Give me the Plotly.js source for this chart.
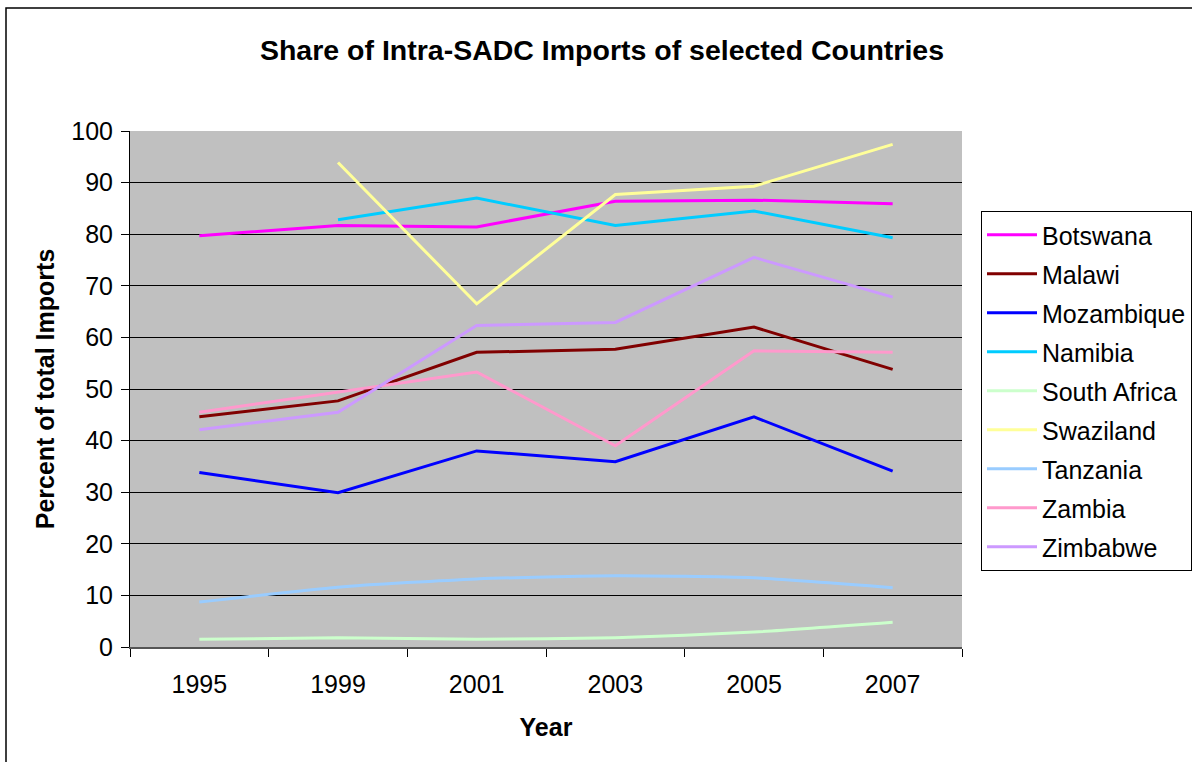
<!DOCTYPE html>
<html>
<head>
<meta charset="utf-8">
<script src="https://cdn.plot.ly/plotly-3.0.1.min.js"></script>
<style>html,body{margin:0;padding:0;background:#fff;}#chart{width:1192px;height:762px;}</style>
</head>
<body>
<div id="chart"></div>
<script>
const years = ['1995', '1999', '2001', '2003', '2005', '2007'];
const botswana    = [79.7, 81.7, 81.4, 86.4, 86.6, 85.9];
const malawi      = [44.6, 47.7, 57.1, 57.7, 62.0, 53.8];
const mozambique  = [33.8, 29.9, 38.0, 35.9, 44.6, 34.1];
const namibia     = [null, 82.8, 87.0, 81.7, 84.5, 79.3];
const southAfrica = [1.5, 1.8, 1.5, 1.8, 2.9, 4.8];
const swaziland   = [null, 93.9, 66.5, 87.7, 89.3, 97.4];
const tanzania    = [8.7, 11.6, 13.2, 13.8, 13.4, 11.5];
const zambia      = [45.5, 49.4, 53.3, 39.0, 57.4, 57.1];
const zimbabwe    = [42.1, 45.5, 62.3, 62.9, 75.5, 67.8];

const seriesNames = ['Botswana', 'Malawi', 'Mozambique', 'Namibia', 'South Africa', 'Swaziland', 'Tanzania', 'Zambia', 'Zimbabwe'];
const seriesData = [botswana, malawi, mozambique, namibia, southAfrica, swaziland, tanzania, zambia, zimbabwe];
const seriesColors = ['#FF00FF', '#800000', '#0000FF', '#00CCFF', '#CCFFCC', '#FFFF99', '#99CCFF', '#FF99CC', '#CC99FF'];
const smoothed = ['South Africa', 'Tanzania'];

const traces = seriesNames.map((name, i) => ({
  type: 'scatter',
  mode: 'lines',
  name: name,
  x: years,
  y: seriesData[i],
  legendgroup: 'g' + i,
  line: {color: seriesColors[i], width: 3, shape: smoothed.includes(name) ? 'spline' : 'linear', smoothing: 0.6},
  connectgaps: false
}));

const F = 'Arial, "Liberation Sans", sans-serif';
const layout = {
  width: 1192, height: 762,
  margin: {l: 130, r: 230, t: 131, b: 115, autoexpand: false},
  paper_bgcolor: '#ffffff',
  plot_bgcolor: '#C0C0C0',
  font: {family: F, color: '#000', size: 25},
  title: {text: '<b>Share of Intra-SADC Imports of selected Countries</b>', font: {family: F, size: 28.5, color: '#000'},
          xref: 'container', x: 602 / 1192, xanchor: 'center', yref: 'container', y: 1 - 50 / 762, yanchor: 'middle'},
  xaxis: {
    type: 'category', range: [-0.5, 5.5], tickson: 'boundaries',
    ticks: 'outside', ticklen: 8, tickcolor: '#000', tickwidth: 1,
    ticklabelstandoff: 14,
    showline: true, linecolor: '#555', linewidth: 2, showgrid: false, zeroline: false,
    tickfont: {family: F, size: 25, color: '#000'},
    title: {text: '<b>Year</b>', font: {family: F, size: 25, color: '#000'}, standoff: 21}
  },
  yaxis: {
    range: [0, 100], dtick: 10, tick0: 0,
    ticks: 'outside', ticklen: 8, tickcolor: '#000', tickwidth: 1,
    ticklabelstandoff: 3,
    showline: true, linecolor: '#000', linewidth: 1,
    showgrid: true, gridcolor: '#000', gridwidth: 1, zeroline: false,
    tickfont: {family: F, size: 25, color: '#000'},
    title: {text: '<b>Percent of total Imports</b>', font: {family: F, size: 25, color: '#000'}, standoff: 9}
  },
  legend: {
    xref: 'container', x: 981 / 1192, xanchor: 'left',
    yref: 'container', y: 1 - 211 / 762, yanchor: 'top',
    bordercolor: '#000', borderwidth: 1, bgcolor: '#fff',
    font: {family: F, size: 25, color: '#000'},
    itemwidth: 50,
    traceorder: 'grouped', tracegroupgap: 3.5
  },
  shapes: [{
    type: 'rect', xref: 'paper', yref: 'paper',
    x0: (6 - 130) / 832, x1: 1.6, y0: -0.4, y1: (647 - 8) / 516,
    line: {color: '#000', width: 1.5}, fillcolor: 'rgba(0,0,0,0)', layer: 'below'
  }],
  showlegend: true
};

Plotly.newPlot('chart', traces, layout, {displayModeBar: false, staticPlot: true});
</script>
</body>
</html>
